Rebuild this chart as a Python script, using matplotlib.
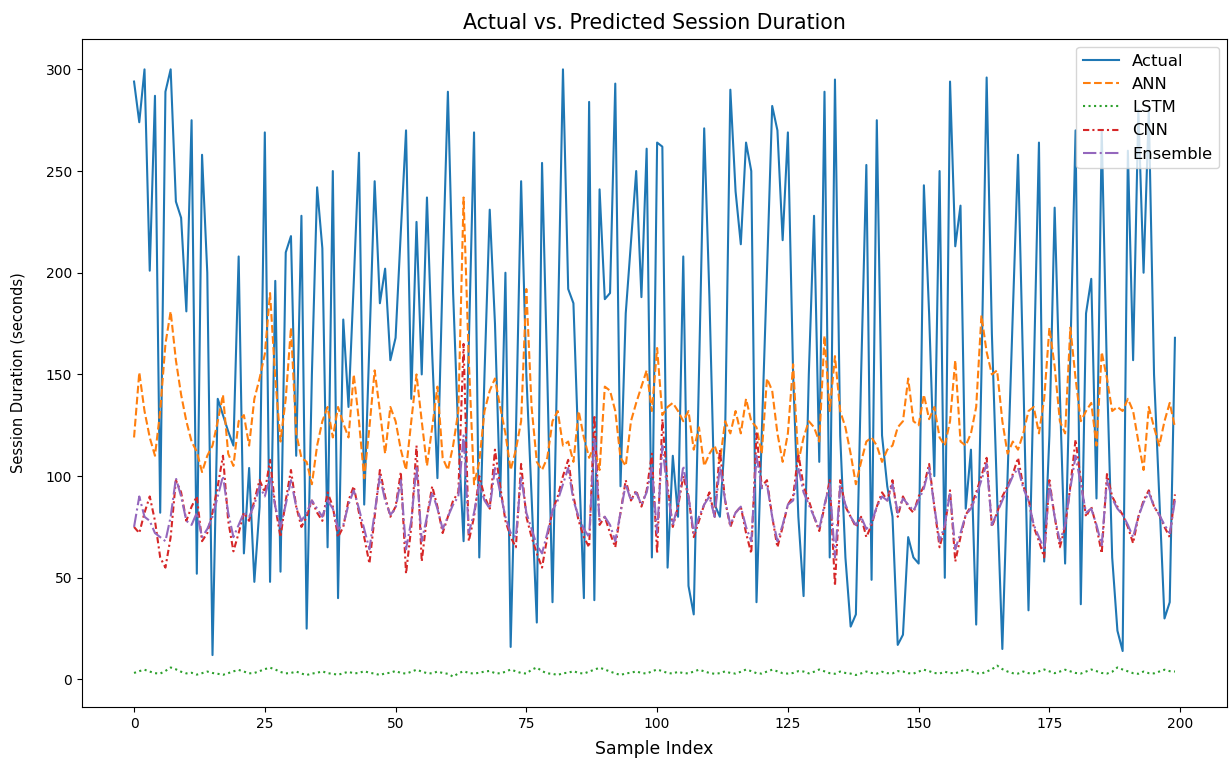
import matplotlib
matplotlib.use("Agg")
import matplotlib.pyplot as plt
import numpy as np

# ---- data ----
actual = [294, 274, 300, 201, 287, 82, 289, 300, 235, 227,
          181, 275, 52, 258, 200, 12, 138, 130, 122, 115,
          208, 62, 104, 48, 85, 269, 48, 196, 53, 210,
          218, 110, 228, 25, 150, 242, 212, 65, 250, 40,
          177, 134, 195, 259, 86, 165, 245, 185, 202, 157,
          168, 220, 270, 138, 225, 150, 237, 160, 99, 200,
          289, 190, 120, 68, 165, 269, 60, 150, 231, 175,
          90, 200, 16, 120, 245, 150, 90, 28, 254, 150,
          38, 170, 300, 192, 185, 110, 40, 284, 39, 241,
          187, 190, 293, 95, 180, 215, 250, 188, 261, 60,
          264, 262, 55, 110, 80, 208, 46, 32, 150, 271,
          188, 86, 80, 120, 290, 240, 214, 264, 250, 38,
          120, 200, 282, 270, 216, 269, 150, 80, 41, 150,
          228, 107, 289, 60, 295, 120, 60, 26, 32, 150,
          253, 49, 275, 120, 95, 80, 17, 22, 70, 60,
          57, 243, 180, 100, 250, 50, 294, 213, 233, 84,
          113, 27, 150, 296, 170, 90, 15, 100, 180, 258,
          150, 34, 150, 264, 58, 120, 232, 140, 57, 160,
          270, 37, 180, 197, 89, 270, 150, 60, 24, 14,
          260, 157, 280, 200, 280, 150, 90, 30, 38, 168]

ann = [119, 151, 132, 119, 110, 132, 165, 181, 157, 140,
       127, 117, 112, 102, 110, 115, 127, 140, 111, 105,
       127, 130, 115, 138, 148, 160, 190, 148, 117, 138,
       173, 121, 109, 107, 96, 115, 127, 134, 119, 134,
       126, 119, 150, 127, 99, 124, 152, 132, 111, 134,
       127, 113, 103, 127, 150, 127, 105, 124, 144, 109,
       103, 115, 132, 237, 157, 96, 107, 132, 142, 148,
       134, 121, 103, 113, 127, 192, 134, 107, 103, 109,
       127, 132, 115, 117, 107, 132, 119, 109, 115, 103,
       144, 142, 132, 109, 105, 127, 136, 144, 152, 132,
       163, 130, 134, 136, 132, 127, 132, 113, 124, 105,
       111, 115, 107, 127, 121, 132, 121, 138, 127, 124,
       111, 148, 142, 121, 107, 121, 155, 107, 119, 127,
       124, 117, 169, 132, 159, 132, 124, 111, 96, 107,
       117, 119, 115, 107, 113, 115, 124, 127, 148, 127,
       125, 140, 128, 134, 119, 115, 127, 157, 117, 115,
       121, 134, 179, 161, 150, 152, 127, 111, 117, 113,
       121, 132, 134, 121, 138, 173, 154, 127, 121, 173,
       148, 127, 132, 136, 115, 161, 148, 132, 134, 132,
       138, 132, 117, 103, 134, 124, 115, 127, 136, 124]

lstm = [3.2, 4.1, 4.8, 3.9, 3.1, 2.9, 4.2, 5.9, 5.0, 3.8,
        3.0, 3.3, 2.4, 3.1, 3.9, 3.2, 2.8, 2.3, 3.1, 4.0,
        4.7, 3.9, 3.0, 3.2, 4.1, 5.1, 5.8, 4.9, 3.7, 3.0,
        3.2, 3.9, 2.9, 2.2, 2.9, 3.3, 4.0, 3.1, 2.8, 2.3,
        3.1, 3.8, 3.0, 3.2, 4.1, 3.3, 2.9, 2.2, 3.0, 3.3,
        4.2, 3.2, 2.9, 3.8, 4.8, 3.9, 3.1, 3.0, 3.9, 3.2,
        2.8, 1.4, 3.0, 4.1, 3.2, 2.9, 3.3, 3.9, 4.2, 3.1,
        3.0, 3.8, 4.9, 4.0, 3.2, 2.9, 4.8, 5.9, 4.1, 3.0,
        2.8, 2.2, 3.1, 3.3, 4.1, 3.2, 2.9, 3.9, 4.8, 5.8,
        4.9, 3.9, 3.0, 2.2, 3.0, 3.3, 4.0, 3.2, 2.9, 4.0,
        4.9, 4.1, 3.2, 2.9, 3.8, 3.1, 3.0, 3.9, 4.8, 4.0,
        3.2, 2.8, 3.1, 4.0, 3.2, 2.9, 3.8, 4.9, 4.1, 3.1,
        2.9, 3.9, 4.8, 4.0, 3.1, 2.9, 3.2, 4.1, 3.9, 3.0,
        3.8, 4.9, 4.0, 3.1, 2.8, 3.9, 3.2, 2.9, 2.2, 3.0,
        3.9, 3.2, 2.9, 3.8, 3.1, 3.0, 4.1, 3.9, 3.1, 2.9,
        3.9, 4.8, 4.1, 3.2, 2.9, 3.8, 3.2, 3.0, 4.0, 4.9,
        4.1, 3.1, 2.9, 3.9, 5.0, 6.8, 5.1, 3.9, 3.1, 2.9,
        3.9, 3.1, 3.0, 4.0, 4.9, 4.0, 3.1, 3.9, 4.8, 4.0,
        3.2, 2.9, 3.9, 4.9, 4.1, 3.2, 2.9, 3.8, 5.9, 4.9,
        4.0, 3.1, 2.8, 3.9, 3.1, 3.0, 3.9, 4.8, 4.1, 3.9]

cnn = [75, 72, 82, 90, 78, 60, 55, 70, 98, 92,
       78, 85, 90, 68, 72, 82, 95, 110, 78, 63,
       72, 82, 78, 88, 98, 92, 108, 85, 70, 88,
       103, 85, 75, 80, 88, 82, 78, 92, 85, 70,
       75, 88, 95, 82, 70, 57, 80, 103, 90, 80,
       85, 102, 52, 75, 115, 58, 80, 95, 85, 72,
       80, 88, 92, 165, 68, 80, 100, 90, 84, 113,
       95, 78, 70, 65, 106, 80, 70, 62, 55, 70,
       83, 90, 100, 108, 90, 78, 70, 65, 130, 76,
       80, 72, 65, 82, 98, 88, 93, 85, 93, 111,
       62, 128, 95, 75, 85, 100, 90, 70, 78, 86,
       92, 80, 113, 88, 75, 82, 85, 72, 62, 121,
       95, 98, 80, 65, 75, 86, 90, 111, 95, 88,
       80, 73, 85, 98, 46, 98, 85, 80, 75, 80,
       70, 76, 85, 92, 88, 98, 80, 90, 85, 82,
       90, 95, 106, 85, 65, 75, 93, 58, 70, 81,
       85, 92, 100, 109, 75, 82, 90, 95, 101, 109,
       95, 89, 75, 68, 60, 98, 80, 65, 75, 95,
       118, 98, 80, 85, 75, 62, 101, 90, 85, 81,
       75, 67, 80, 88, 93, 85, 81, 75, 70, 91]

ensemble = [75, 90, 80, 78, 72, 70, 68, 80, 99, 90,
            78, 76, 82, 70, 74, 80, 90, 100, 82, 70,
            76, 82, 80, 86, 95, 90, 100, 85, 75, 86,
            98, 85, 78, 82, 88, 84, 80, 88, 84, 74,
            76, 86, 93, 84, 74, 64, 82, 100, 88, 81,
            84, 98, 64, 78, 105, 68, 80, 92, 84, 74,
            80, 86, 90, 120, 72, 82, 96, 88, 84, 104,
            92, 80, 72, 70, 100, 82, 74, 66, 62, 72,
            83, 88, 96, 104, 88, 80, 74, 70, 118, 78,
            80, 76, 68, 82, 96, 88, 92, 86, 92, 104,
            72, 115, 92, 76, 86, 105, 90, 72, 80, 86,
            90, 80, 105, 88, 76, 82, 85, 75, 68, 110,
            94, 96, 80, 68, 76, 86, 88, 104, 92, 86,
            80, 74, 86, 96, 60, 95, 86, 80, 76, 80,
            74, 77, 85, 90, 88, 96, 82, 89, 86, 83,
            88, 94, 104, 85, 68, 76, 92, 64, 72, 81,
            84, 90, 98, 106, 76, 82, 88, 94, 100, 104,
            94, 88, 76, 70, 64, 96, 80, 68, 76, 94,
            110, 96, 82, 84, 76, 66, 98, 89, 84, 81,
            76, 70, 80, 87, 92, 85, 81, 76, 72, 88]

labels = ["Actual", "ANN", "LSTM", "CNN", "Ensemble"]

fig = plt.figure(figsize=(12.29, 7.63), dpi=100)
ax = fig.add_axes([82/1229, 56/763, 1145/1229, 668/763])

ax.plot(actual, label=labels[0], color="C0", linestyle="-")
ax.plot(ann, label=labels[1], color="C1", linestyle="--")
ax.plot(lstm, label=labels[2], color="C2", linestyle=":")
ax.plot(cnn, label=labels[3], color="C3", linestyle=(0, (3, 1.5, 1, 1.5)))
ax.plot(ensemble, label=labels[4], color="C4", linestyle="-.")

ax.set_title("Actual vs. Predicted Session Duration", fontsize=14.8, pad=7)
ax.set_xlabel("Sample Index", fontsize=12.4, labelpad=7)
ax.set_ylabel("Session Duration (seconds)", fontsize=10.5, labelpad=15)
ax.legend(loc="upper right", fontsize=11.8, handlelength=2.2)

fig.savefig("out.png", dpi=100)
